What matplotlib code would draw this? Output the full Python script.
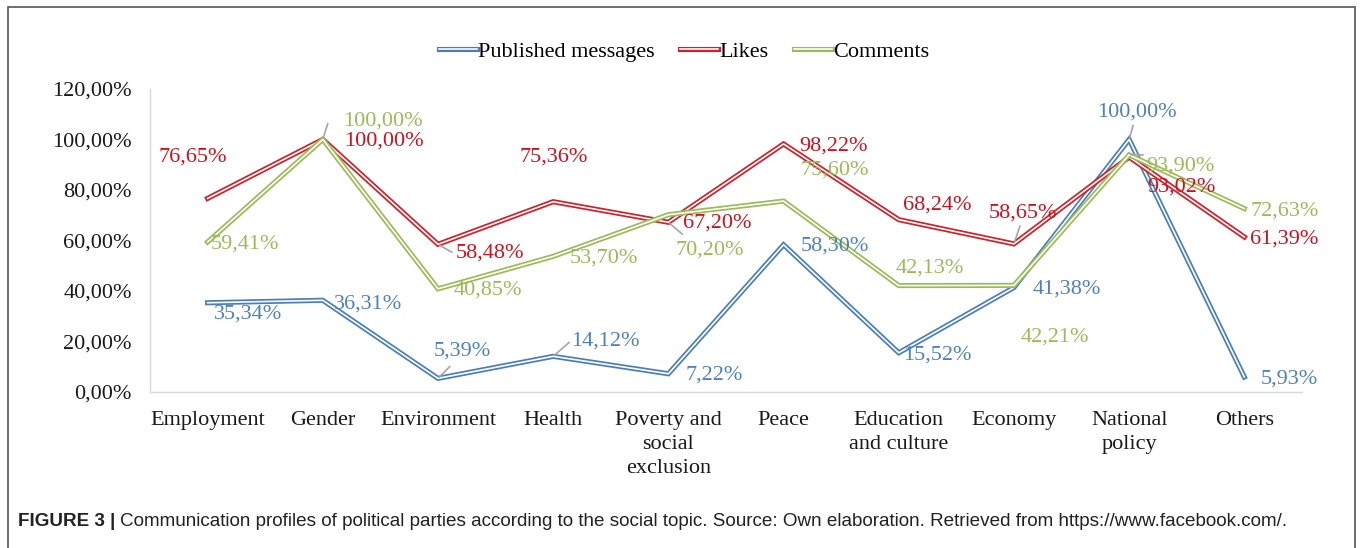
import matplotlib
matplotlib.use("Agg")
import matplotlib.pyplot as plt
from matplotlib.lines import Line2D
from matplotlib.patches import Rectangle
from matplotlib.ticker import FuncFormatter
from matplotlib.legend_handler import HandlerTuple

# data
topics = ["Employment", "Gender", "Environment", "Health", "Poverty and\nsocial\nexclusion",
          "Peace", "Education\nand culture", "Economy", "National\npolicy", "Others"]
published = [35.34, 36.31, 5.39, 14.12, 7.22, 58.30, 15.52, 41.38, 100.00, 5.93]
likes = [76.65, 100.00, 58.48, 75.36, 67.20, 98.22, 68.24, 58.65, 93.02, 61.39]
comments = [59.41, 100.00, 40.85, 53.70, 70.20, 75.60, 42.13, 42.21, 93.90, 72.63]
yticks = [0, 20, 40, 60, 80, 100, 120]

# label offsets in pixels (left edge of text, vertical centre), y up
off_published = [(6, -11), (11, -4), (-4, 27), (18, 15), (17, -1), (17, -1), (4, -2), (19, -2), (-32, 27.5), (16, -2)]
off_likes = [(-49, 41.5), (21, -1.5), (18, -8.7), (-34, 44.7), (15, -0.7), (16, -2), (4, 14.7), (-25, 30.9), (18, -30), (6, -2)]
off_comments = [(3, -2), (20, 18.5), (16, -1), (17, -1.6), (7, -35.3), (17, 31), (-3, 17.6), (7, -51.6), (17, -11), (6, -2.4)]
# grey leader lines: end of the line relative to the point, pixels
leaders = {("p", 2): (12, 12), ("p", 3): (16, 14), ("l", 2): (14, -8), ("l", 4): (14, -12),
           ("l", 7): (6, 18), ("c", 1): (5, 16), ("p", 8): (4, 14), ("c", 8): (14, 0)}

blue = "#4a7ebb"
red = "#d0202a"
green = "#9bbb59"
blue_txt = "#4f81bd"
red_txt = "#d0101e"
green_txt = "#9bbb59"

plt.rcParams["font.family"] = "Liberation Serif"
fs = 16

fig = plt.figure(figsize=(13.6, 5.48), dpi=100)
ax = fig.add_axes([0.1103, 0.2847, 0.847, 0.553])

x = list(range(len(topics)))
series = [("p", "Published messages", published, blue, blue_txt, off_published, 3),
          ("l", "Likes", likes, red, red_txt, off_likes, 4),
          ("c", "Comments", comments, green, green_txt, off_comments, 5)]

handles = []
for key, name, vals, col, tcol, offs, z in series:
    ax.plot(x, vals, color=col, lw=3.7, solid_joinstyle="miter", zorder=z)
    ax.plot(x, vals, color="white", lw=1.2, solid_joinstyle="miter", zorder=z + 0.1)
    handles.append((Line2D([], [], color=col, lw=3.7), Line2D([], [], color="white", lw=1.2)))
    for i, v in enumerate(vals):
        dx, dy = offs[i]
        txt = ("%.2f%%" % v).replace(".", ",")
        ax.annotate(txt, xy=(i, v), xytext=(dx * 0.72, dy * 0.72), textcoords="offset points",
                    ha="left", va="center", fontsize=fs, color=tcol, zorder=10)
        if (key, i) in leaders:
            lx, ly = leaders[(key, i)]
            ax.annotate("", xy=(i, v), xytext=(lx * 0.72, ly * 0.72), textcoords="offset points",
                        arrowprops=dict(arrowstyle="-", color="#a6a6a6", lw=1.2, shrinkA=0, shrinkB=1),
                        zorder=9)

ax.set_xlim(-0.5, len(topics) - 0.5)
ax.set_ylim(0, 120)
ax.set_yticks(yticks)
ax.yaxis.set_major_formatter(FuncFormatter(lambda v, p: ("%.2f%%" % v).replace(".", ",")))
ax.set_xticks(x)
ax.set_xticklabels(topics, fontsize=fs, color="#1a1a1a", linespacing=1.35)
ax.tick_params(axis="y", labelsize=fs, labelcolor="#1a1a1a", length=0, pad=13)
ax.tick_params(axis="x", length=0, pad=14)
for s in ["top", "right"]:
    ax.spines[s].set_visible(False)
for s in ["left", "bottom"]:
    ax.spines[s].set_color("#d9d9d9")
    ax.spines[s].set_linewidth(1.0)

fig.legend(handles, [s[1] for s in series], loc="center", bbox_to_anchor=(0.503, 0.906),
           ncol=3, frameon=False, fontsize=fs, handlelength=1.7, handletextpad=0.05,
           columnspacing=1.15, handler_map={tuple: HandlerTuple(ndivide=1, pad=0)})

# caption
cap1 = fig.text(18 / 1360, 1 - 521 / 548, "FIGURE 3 | ", fontsize=13.6, fontweight="bold",
                family="Liberation Sans", va="center", color="#222222")
ax.annotate("Communication profiles of political parties according to the social topic. Source: Own elaboration. "
            "Retrieved from https://www.facebook.com/.",
            xy=(1, 0.5), xycoords=cap1, ha="left", va="center", fontsize=13.6,
            family="Liberation Sans", color="#222222", annotation_clip=False)

# outer frame
fig.add_artist(Rectangle((8 / 1360, -0.02), (1355 - 8) / 1360, 1.02 - 7 / 548,
                         transform=fig.transFigure, fill=False, edgecolor="#555555", lw=1.2))

fig.savefig("out.png", dpi=100, facecolor="white")
